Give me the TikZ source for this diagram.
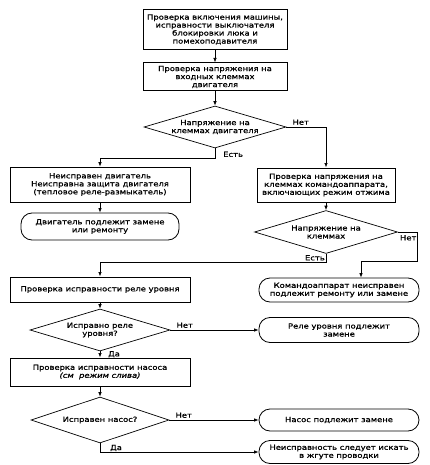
\documentclass[tikz,border=0pt]{standalone}
\usepackage{fontspec}
\setmainfont[FakeStretch=1.2,FakeBold=0.9]{DejaVu Sans}
\usetikzlibrary{shapes.geometric,arrows.meta}
\begin{document}
\begin{tikzpicture}[x=1pt,y=-1pt,
  every node/.style={font=\fontsize{7}{8}\selectfont, align=center, inner sep=0pt},
  box/.style={draw, line width=1pt},
  thinbox/.style={draw, line width=0.7pt},
  term/.style={draw, line width=0.8pt, rounded corners=11pt},
  dec/.style={draw, shape=diamond, line width=0.7pt, aspect=3.4},
  arr/.style={line width=0.7pt, -{Latex[length=4.5pt,width=3.5pt]}},
  lbl/.style={font=\fontsize{7}{8}\selectfont}]
\useasboundingbox (0,0) rectangle (429,465);

\node[box, minimum width=144pt, minimum height=40pt] (b1) at (215,29.5)
  {Проверка включения машины,\\исправности выключателя\\блокировки люка и\\помехоподавителя};
\node[box, minimum width=144pt, minimum height=28pt] (b2) at (215,77)
  {Проверка напряжения на\\входных клеммах\\двигателя};
\node[dec, minimum width=142pt, minimum height=42pt] (d1) at (215,127)
  {Напряжение на\\клеммах двигателя};
\node[thinbox, minimum width=180pt, minimum height=35pt] (b3) at (100,184.5)
  {Неисправен двигатель\\Неисправна защита двигателя\\(тепловое реле-размыкатель)};
\node[term, minimum width=158pt, minimum height=27pt] (r1) at (100,226.5)
  {Двигатель подлежит замене\\или ремонту};
\node[box, minimum width=138pt, minimum height=34pt] (b4) at (326,185)
  {Проверка напряжения на\\клеммах командоаппарата,\\включающих режим отжима};
\node[dec, minimum width=143pt, minimum height=43pt] (d2) at (326,232)
  {Напряжение на\\клеммах};
\node[term, minimum width=160pt, minimum height=24pt] (r2) at (339,290)
  {Командоаппарат неисправен\\подлежит ремонту или замене};
\node[box, minimum width=180pt, minimum height=25pt] (b6) at (100,289.5)
  {Проверка исправности реле уровня};
\node[dec, minimum width=140pt, minimum height=42pt] (d3) at (100,330)
  {Исправно реле\\уровня?};
\node[term, minimum width=160pt, minimum height=25pt] (r3) at (339,330)
  {Реле уровня подлежит\\замене};
\node[box, minimum width=180pt, minimum height=28pt] (b7) at (100,372)
  {Проверка исправности насоса\\\textit{(см\ \ режим слива)}};
\node[dec, minimum width=138pt, minimum height=46pt] (d4) at (100,420)
  {Исправен насос?};
\node[term, minimum width=160pt, minimum height=22pt] (r4) at (339,420)
  {Насос подлежит замене};
\node[term, minimum width=160pt, minimum height=23pt] (r5) at (339,452)
  {Неисправность следует искать\\в жгуте проводки};

\coordinate (c1) at (417,261);

\draw[arr] (b1) -- (b2);
\draw[arr] (b2) -- (d1);
\draw[arr] (d1.east) -| (b4.north);
\draw[arr] (d1.south) -- ++(0,10) -| (b3.north);
\draw[arr] (b3) -- (r1);
\draw[arr] (b4) -- (d2);
\draw[arr] (d2.east) -| (c1) -| ([xshift=22pt]r2.north);
\draw[arr] (d2.south) -- ++(0,8) -| (b6.north);
\draw[arr] (b6) -- (d3);
\draw[arr] (d3.east) -- (r3.west);
\draw[arr] (d3) -- (b7);
\draw[arr] (b7) -- (d4);
\draw[arr] (d4.east) -- (r4.west);
\draw[arr] (d4.south) |- (r5.west);

\node[lbl, anchor=south west] (n1) at ([xshift=6pt,yshift=2pt]d1.east) {Нет};
\node[lbl, anchor=west] (e1) at ([xshift=8pt,yshift=-6pt]d1.south) {Есть};
\node[lbl, anchor=north west] (n2) at ([xshift=2pt,yshift=-3pt]d2.east) {Нет};
\node[lbl, anchor=east] (e2) at ([xshift=-1pt,yshift=-4pt]d2.south) {Есть};
\node[lbl, anchor=south west] (n3) at ([xshift=6pt,yshift=2pt]d3.east) {Нет};
\node[lbl, anchor=west] (y3) at ([xshift=8pt,yshift=-3pt]d3.south) {Да};
\node[lbl, anchor=south west] (n4) at ([xshift=6pt,yshift=2pt]d4.east) {Нет};
\node[lbl, anchor=south west] (y4) at ([xshift=10pt,yshift=-8pt]d4.south) {Да};
\end{tikzpicture}
\end{document}
